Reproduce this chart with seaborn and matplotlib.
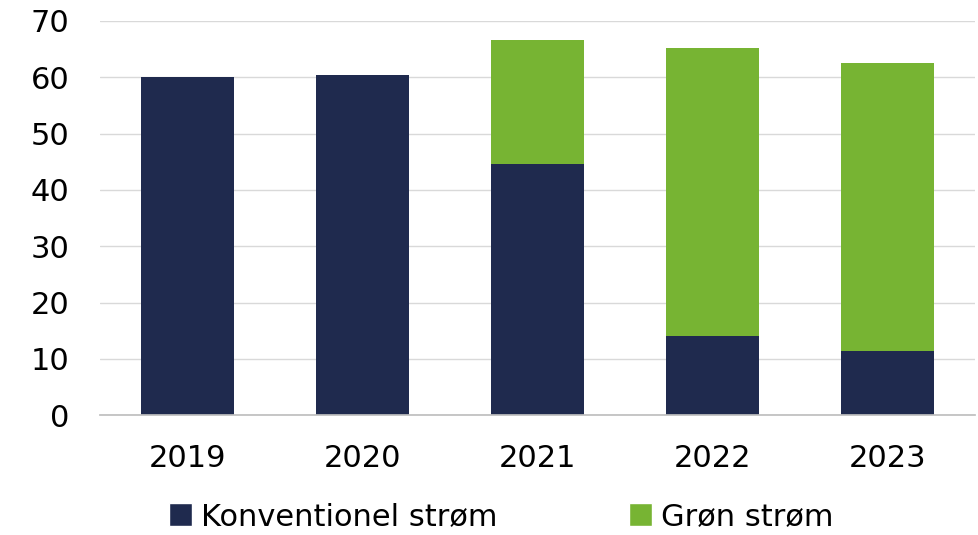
import matplotlib
matplotlib.use("Agg")
import matplotlib.pyplot as plt
import seaborn as sns
import pandas as pd
from matplotlib.patches import Patch

years = ["2019", "2020", "2021", "2022", "2023"]
konventionel = [60.0, 60.4, 44.6, 14.0, 11.4]
groen = [0.0, 0.0, 22.0, 51.2, 51.1]
series_names = ["Konventionel strøm", "Grøn strøm"]
yticks = [0, 10, 20, 30, 40, 50, 60, 70]

navy = "#1F2A4E"
green = "#77B433"

sns.set_theme(style="white")
plt.rcParams['font.family'] = ['DejaVu Sans']

df = pd.DataFrame({"year": years, "konv": konventionel, "groen": groen})
df["total"] = df["konv"] + df["groen"]

fig = plt.figure(figsize=(9.79, 5.35), dpi=100)
ax = fig.add_axes([0.102, 0.224, 0.894, 0.737])

sns.barplot(data=df, x="year", y="total", color=green, width=0.53, ax=ax,
            saturation=1, linewidth=0)
sns.barplot(data=df, x="year", y="konv", color=navy, width=0.53, ax=ax,
            saturation=1, linewidth=0)

ax.set_ylim(0, 70)
ax.set_yticks(yticks)
ax.set_xlabel("")
ax.set_ylabel("")
ax.grid(axis="y", color="#D9D9D9", linewidth=1)
ax.set_axisbelow(True)
for s in ["left", "right", "top"]:
    ax.spines[s].set_visible(False)
ax.spines["bottom"].set_color("#BFBFBF")
ax.tick_params(axis="both", length=0, labelsize=22, colors="black")
ax.tick_params(axis="x", pad=21)
ax.tick_params(axis="y", pad=22)

handles = [Patch(facecolor=navy), Patch(facecolor=green)]
leg = fig.legend(handles, series_names, loc="center", bbox_to_anchor=(0.512, 0.034),
           ncol=2, frameon=False, fontsize=22, handlelength=0.75, handleheight=0.75,
           handletextpad=0.3, columnspacing=4.3)
for t in leg.get_texts():
    t.set_color("black")

fig.savefig("out.png", dpi=100)
